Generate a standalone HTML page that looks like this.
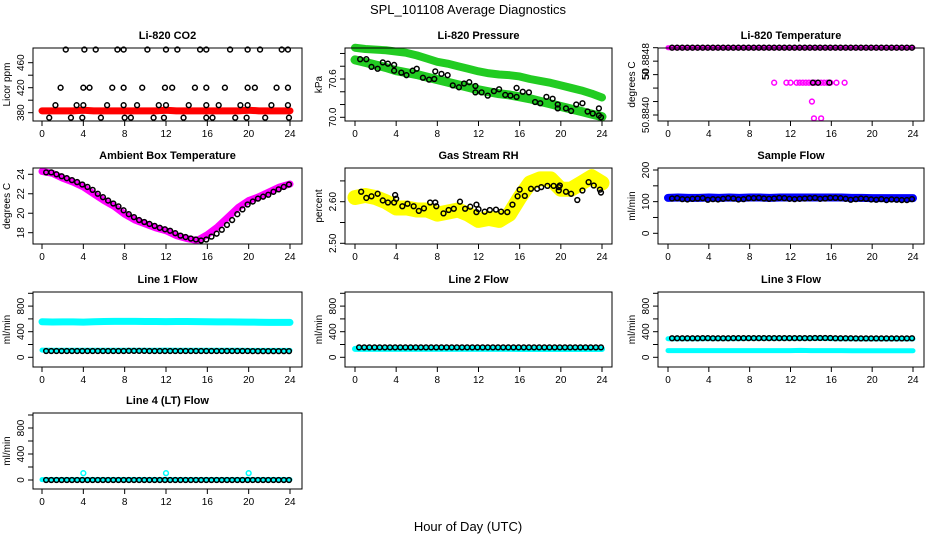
<!DOCTYPE html>
<html><head><meta charset="utf-8"><title>SPL_101108 Average Diagnostics</title>
<style>
html,body{margin:0;padding:0;background:#fff;}
svg{display:block;font-family:"Liberation Sans",sans-serif;}
</style></head>
<body>
<svg id="chart" width="936" height="540" viewBox="0 0 936 540">
<text x="468" y="14" text-anchor="middle" font-size="13">SPL_101108  Average Diagnostics</text>
<text x="468" y="531" text-anchor="middle" font-size="13">Hour of Day (UTC)</text>
</svg>
<script>
// ---------- data ----------
const hourly = [0,1,2,3,4,5,6,7,8,9,10,11,12,13,14,15,16,17,18,19,20,21,22,23,24];
const halfHours = [0.4,0.9,1.4,1.9,2.4,2.9,3.4,3.9,4.4,4.9,5.4,5.9,6.4,6.9,7.4,7.9,8.4,8.9,9.4,9.9,10.4,10.9,11.4,11.9,12.4,12.9,13.4,13.9,14.4,14.9,15.4,15.9,16.4,16.9,17.4,17.9,18.4,18.9,19.4,19.9,20.4,20.9,21.4,21.9,22.4,22.9,23.4,23.9];
const xTicks = [0,4,8,12,16,20,24];

// CO2
const co2Red = [383,383,383,383,384,383,383,383,383,383,383,383,384,383,383,383,383,383,383,383,384,383,383,383,383];
const co2HoursA = [2.3,4.1,5.2,7.3,7.9,10.2,12.0,13.1,15.3,15.9,18.2,19.9,21.1,23.2,23.8];
const co2HoursB = [1.8,4.0,4.6,6.8,7.9,9.7,11.9,12.6,14.8,15.9,17.7,19.9,20.6,22.7,23.8];
const co2HoursC = [1.3,3.35,4.0,6.3,7.9,9.2,11.3,12.0,14.2,15.9,17.1,19.2,19.9,22.2,23.8];
const co2HoursD = [0.7,2.8,3.9,5.7,8.0,8.6,10.8,11.8,13.7,15.9,16.5,18.7,19.8,21.6,23.9];
const co2Levels = [481,420,392,372];

// Pressure
const presUpper = [71.09,71.07,71.06,71.05,71.03,71.01,70.97,70.92,70.87,70.84,70.80,70.76,70.72,70.69,70.67,70.66,70.64,70.60,70.57,70.54,70.50,70.46,70.42,70.37,70.31];
const presLower = [70.90,70.86,70.82,70.78,70.73,70.70,70.67,70.63,70.59,70.55,70.51,70.47,70.43,70.40,70.37,70.35,70.32,70.29,70.25,70.21,70.17,70.13,70.09,70.05,70.01];
const presBlackHours = [0.5,1.1,1.6,2.2,2.7,3.2,3.8,3.8,4.5,5.0,5.6,6.0,6.6,7.2,7.7,7.8,8.4,9.0,9.5,10.1,10.6,11.1,11.7,11.7,12.3,12.9,13.5,14.0,14.6,15.1,15.7,15.7,16.3,16.9,17.5,18.0,18.6,19.2,19.7,19.7,20.5,21.0,21.5,22.1,22.6,23.1,23.7,23.7,23.9];
const presBlack = [70.91,70.91,70.79,70.76,70.86,70.84,70.82,70.73,70.70,70.66,70.73,70.76,70.62,70.59,70.60,70.72,70.68,70.66,70.50,70.47,70.53,70.55,70.49,70.39,70.39,70.34,70.41,70.44,70.35,70.34,70.46,70.32,70.40,70.39,70.24,70.22,70.32,70.29,70.20,70.14,70.14,70.10,70.20,70.22,70.09,70.06,70.03,70.14,70.00];

// Li-820 temperature
const tempTop = [50.8850,50.8850,50.8850,50.8850,50.8850,50.8850,50.8850,50.8850,50.8850,50.8850,50.8850,50.8850,50.8850,50.8850,50.8850,50.8850,50.8850,50.8850,50.8850,50.8850,50.8850,50.8850,50.8850,50.8850,50.8850];
const tempBlackTop = [50.8850,50.8850,50.8850,50.8850,50.8850,50.8850,50.8850,50.8850,50.8850,50.8850,50.8850,50.8850,50.8850,50.8850,50.8850,50.8850,50.8850,50.8850,50.8850,50.8850,50.8850,50.8850,50.8850,50.8850,50.8850,50.8850,50.8850,50.8850,50.8850,50.8850,50.8850,50.8850,50.8850,50.8850,50.8850,50.8850,50.8850,50.8850,50.8850,50.8850,50.8850,50.8850,50.8850,50.8850,50.8850,50.8850,50.8850,50.8850];
const tempMidHours = [10.4,11.6,12.0,12.6,12.9,13.2,13.5,13.8,14.1,14.4,14.7,15.0,15.3,15.6,15.9,16.5,17.3,14.1,14.3,15.0];
const tempMid = [50.88448,50.88448,50.88448,50.88448,50.88448,50.88448,50.88448,50.88448,50.88448,50.88448,50.88448,50.88448,50.88448,50.88448,50.88448,50.88448,50.88448,50.8842,50.88395,50.88395];
const tempBlackMidHours = [14.2,14.7,15.8];
const tempBlackMid = [50.88448,50.88448,50.88448];

// Ambient box temperature
const ambMagenta = [24.3,24.1,23.6,23.2,22.7,22.0,21.3,20.7,19.9,19.3,18.9,18.5,18.2,17.7,17.4,17.2,17.8,18.6,19.6,20.6,21.3,21.7,22.2,22.7,23.0];
const ambBlack = [24.2,24.2,24.0,23.8,23.6,23.4,23.2,22.95,22.7,22.4,22.0,21.65,21.3,21.0,20.7,20.3,19.9,19.6,19.3,19.1,18.9,18.7,18.5,18.35,18.2,17.95,17.7,17.55,17.4,17.3,17.2,17.3,17.6,17.9,18.3,18.8,19.3,19.9,20.4,20.9,21.2,21.5,21.7,21.9,22.2,22.45,22.7,22.95];

// Gas stream RH
const rhYellow = [2.61,2.615,2.61,2.60,2.585,2.585,2.58,2.58,2.57,2.575,2.58,2.57,2.555,2.56,2.555,2.57,2.61,2.645,2.655,2.655,2.63,2.63,2.645,2.66,2.645];
const rhBlackHours = [0.6,1.1,1.6,2.2,2.7,3.2,3.8,3.9,4.0,4.6,5.1,5.7,6.2,6.7,7.3,7.8,7.9,8.6,9.1,9.6,10.2,10.7,11.2,11.8,11.8,12.0,12.6,13.1,13.7,14.2,14.8,15.3,15.8,16.0,16.5,17.1,17.7,18.1,18.7,19.3,19.8,19.9,19.8,20.5,21.0,21.6,22.1,22.7,23.2,23.8,23.9];
const rhBlack = [2.624,2.609,2.613,2.619,2.603,2.598,2.598,2.616,2.607,2.589,2.595,2.589,2.578,2.584,2.598,2.598,2.589,2.572,2.580,2.583,2.600,2.583,2.588,2.593,2.575,2.582,2.576,2.580,2.581,2.576,2.575,2.593,2.613,2.629,2.614,2.631,2.631,2.635,2.638,2.638,2.635,2.639,2.627,2.624,2.619,2.604,2.627,2.647,2.639,2.629,2.622];

// Sample flow
const sampleBlue = [112,113,112,112,113,112,113,112,113,113,112,113,113,113,113,113,113,113,112,112,111,111,111,111,111];
const sampleBlack = [110,111,108,107,109,110,111,106,108,107,109,111,110,107,108,111,111,112,110,109,110,112,111,109,108,109,110,111,112,109,110,112,112,111,109,106,108,110,109,107,106,108,105,107,106,105,105,108];

// Line flows
const line1Upper = [555,552,553,553,550,556,560,562,562,562,560,560,558,560,560,558,555,553,553,552,550,548,546,545,545];
const line1Lower = [112,110,110,110,110,110,110,110,110,110,110,110,112,110,110,110,110,110,110,110,108,108,108,108,108];
const line1Black = [98,98,98,98,98,98,98,98,98,98,98,98,98,98,98,98,100,100,100,100,98,98,98,98,98,98,98,98,98,98,98,98,98,98,98,98,98,98,98,98,96,96,96,96,96,96,96,96];
const line2Cyan = [132,132,132,132,132,132,132,132,132,132,132,132,132,132,132,132,130,130,130,130,130,130,130,130,130];
const line2Black = [155,155,155,155,155,155,155,155,155,155,155,155,155,155,155,155,155,155,155,155,155,155,155,155,155,155,155,155,155,155,155,155,155,155,155,155,155,155,155,155,155,155,155,155,155,155,155,155];
const line3Upper = [290,290,290,290,292,292,292,292,295,295,295,295,295,295,295,295,292,290,290,288,288,288,288,288,288];
const line3Lower = [105,105,105,105,105,105,105,105,105,105,105,105,105,108,105,105,105,105,103,103,103,103,103,103,103];
const line3Black = [298,298,298,298,298,298,300,300,298,298,298,298,300,300,300,300,300,300,300,300,300,300,300,300,300,300,300,300,302,302,302,302,298,298,298,298,296,296,296,296,296,296,296,296,296,296,296,298];
const line4Cyan = [5,5,5,5,5,5,5,5,5,5,5,5,5,5,5,5,5,5,5,5,5,5,5,5,5];
const line4OutHours = [4,12,20];
const line4Out = [105,105,105];
const line4Black = [0,0,0,0,0,0,0,0,0,0,0,0,0,0,0,0,0,0,0,0,0,0,0,0,0,0,0,0,0,0,0,0,0,0,0,0,0,0,0,0,0,0,0,0,0,0,0,0];

// ---------- layout ----------
const NS = 'http://www.w3.org/2000/svg';
const svg = document.getElementById('chart');
const cols = [{l:33,r:302,x0:42,x24:290},{l:345,r:612,x0:355,x24:602},{l:658,r:924,x0:668,x24:913}];
const rows = [{t:48,b:121},{t:168,b:244},{t:292,b:367},{t:413,b:489}];

function mk(tag, parent){ const e=document.createElementNS(NS,tag); parent.appendChild(e); return e; }

function makePanel(ci, ri, title, ylab, v0, p0, v1, p1, ticks, labels, name, clip){
  const c=cols[ci], r=rows[ri];
  const g=mk('g',svg);
  
  
  const xs = h => c.x0 + (c.x24-c.x0)*h/24;
  const ys = v => p0 + (p1-p0)*(v-v0)/(v1-v0);
  const plot = mk('g', g);
  
  
  if(clip){
    const clipId = 'clip-'+name;
    const cp = mk('clipPath', g); cp.setAttribute('id', clipId);
    const cr = mk('rect', cp); cr.setAttribute('x',c.l); cr.setAttribute('y',r.t); cr.setAttribute('width',c.r-c.l); cr.setAttribute('height',r.b-r.t);
    plot.setAttribute('clip-path','url(#'+clipId+')');
  }
  const t=mk('text',g); t.textContent=title;
  t.setAttribute('x',(c.l+c.r)/2); t.setAttribute('y',r.t-9); t.setAttribute('text-anchor','middle');
  t.setAttribute('font-size','11'); t.setAttribute('font-weight','bold');
  
  
  const bx=mk('rect',g); bx.setAttribute('x',c.l); bx.setAttribute('y',r.t); bx.setAttribute('width',c.r-c.l); bx.setAttribute('height',r.b-r.t);
  bx.setAttribute('fill','none'); bx.setAttribute('stroke','#000'); bx.setAttribute('stroke-width','1');
  
  
  const xa=mk('g',g);
  
  
  const xl=mk('line',xa); xl.setAttribute('x1',xs(0)); xl.setAttribute('x2',xs(24)); xl.setAttribute('y1',r.b); xl.setAttribute('y2',r.b); xl.setAttribute('stroke','#000');
  xTicks.forEach(h=>{
    const tk=mk('line',xa); tk.setAttribute('x1',xs(h)); tk.setAttribute('x2',xs(h)); tk.setAttribute('y1',r.b); tk.setAttribute('y2',r.b+5); tk.setAttribute('stroke','#000');
    
    
    const tl=mk('text',xa); tl.textContent=h; tl.setAttribute('x',xs(h)); tl.setAttribute('y',r.b+16); tl.setAttribute('text-anchor','middle'); tl.setAttribute('font-size','10');
    
    
  });
  const ya=mk('g',g);
  
  
  const yl=mk('line',ya); yl.setAttribute('x1',c.l); yl.setAttribute('x2',c.l); yl.setAttribute('y1',ys(ticks[0])); yl.setAttribute('y2',ys(ticks[ticks.length-1])); yl.setAttribute('stroke','#000');
  ticks.forEach((v,i)=>{
    const tk=mk('line',ya); tk.setAttribute('x1',c.l-5); tk.setAttribute('x2',c.l); tk.setAttribute('y1',ys(v)); tk.setAttribute('y2',ys(v)); tk.setAttribute('stroke','#000');
    
    
    if(labels[i]){
      const tl=mk('text',ya); tl.textContent=labels[i];
      tl.setAttribute('transform','translate('+(c.l-9)+','+ys(v)+') rotate(-90)');
      tl.setAttribute('text-anchor','middle'); tl.setAttribute('font-size','10');
      
      
    }
  });
  const yt=mk('text',g); yt.textContent=ylab;
  yt.setAttribute('transform','translate('+(c.l-23)+','+((r.t+r.b)/2)+') rotate(-90)');
  yt.setAttribute('text-anchor','middle'); yt.setAttribute('font-size','10');
  
  
  return {plot, xs, ys};
}

function band(p, hours, vals, color, width, name){
  const pl=mk('polyline',p.plot);
  pl.setAttribute('points', hours.map((h,i)=>p.xs(h)+','+p.ys(vals[i])).join(' '));
  pl.setAttribute('fill','none'); pl.setAttribute('stroke',color); pl.setAttribute('stroke-width',width);
  pl.setAttribute('stroke-linejoin','round'); pl.setAttribute('stroke-linecap','round');
  
  
}
function points(p, hours, vals, color, name){
  hours.forEach((h,i)=>{
    const ci=mk('circle',p.plot);
    ci.setAttribute('cx',p.xs(h)); ci.setAttribute('cy',p.ys(vals[i])); ci.setAttribute('r','2.4');
    ci.setAttribute('fill','none'); ci.setAttribute('stroke',color); ci.setAttribute('stroke-width','1.5');
    
    
  });
}

// CO2
let p = makePanel(0,0,'Li-820 CO2','Licor ppm',380,112.7,460,62.7,[380,400,420,440,460],['380','','420','','460'],'co2',false);
band(p, hourly, co2Red, '#ff0000', 7, 'co2-red-series');
points(p, co2HoursA, co2HoursA.map(()=>co2Levels[0]), '#000', 'co2-point');
points(p, co2HoursB, co2HoursB.map(()=>co2Levels[1]), '#000', 'co2-point');
points(p, co2HoursC, co2HoursC.map(()=>co2Levels[2]), '#000', 'co2-point');
points(p, co2HoursD, co2HoursD.map(()=>co2Levels[3]), '#000', 'co2-point');

// Pressure
p = makePanel(1,0,'Li-820 Pressure','kPa',70.0,117.3,70.6,79,[70.0,70.2,70.4,70.6,70.8,71.0],['70.0','','','70.6','',''],'pressure',false);
band(p, hourly, presUpper, '#22cc22', 8, 'pressure-upper-series');
band(p, hourly, presLower, '#22cc22', 9, 'pressure-lower-series');
points(p, presBlackHours, presBlack, '#000', 'pressure-point');

// Li-820 temperature
p = makePanel(2,0,'Li-820 Temperature','degrees C',50.8840,115,50.8850,47.7,[50.8840,50.8842,50.8844,50.8846,50.8848,50.8850],['50.8840','','','50','50.8848',''],'li820-temp',false);
band(p, hourly, tempTop, '#ff00ff', 5, 'li820-temp-magenta-series');
points(p, tempMidHours, tempMid, '#ff00ff', 'li820-temp-magenta-point');
points(p, halfHours, tempBlackTop, '#000', 'li820-temp-point');
points(p, tempBlackMidHours, tempBlackMid, '#000', 'li820-temp-point');

// Ambient
p = makePanel(0,1,'Ambient Box Temperature','degrees C',18,232.7,24,174.3,[18,20,22,24],['18','20','22','24'],'ambient',false);
band(p, hourly, ambMagenta, '#ff00ff', 7, 'ambient-magenta-series');
points(p, halfHours, ambBlack, '#000', 'ambient-point');

// RH
p = makePanel(1,1,'Gas Stream RH','percent',2.50,243.3,2.60,201.7,[2.50,2.55,2.60,2.65],['2.50','','2.60',''],'rh',true);
band(p, hourly, rhYellow, '#ffff00', 15, 'rh-yellow-series');
points(p, rhBlackHours, rhBlack, '#000', 'rh-point');

// Sample flow
p = makePanel(2,1,'Sample Flow','ml/min',0,233.3,200,170,[0,50,100,150,200],['0','','100','','200'],'sample-flow',false);
band(p, hourly, sampleBlue, '#0000ff', 8, 'sample-flow-blue-series');
points(p, halfHours, sampleBlack, '#000', 'sample-flow-point');

// Line 1
p = makePanel(0,2,'Line 1 Flow','ml/min',0,357.3,1000,293.3,[0,200,400,600,800,1000],['0','','400','','800',''],'line1',false);
band(p, hourly, line1Upper, '#00ffff', 7, 'line1-upper-series');
band(p, hourly, line1Lower, '#00ffff', 5, 'line1-lower-series');
points(p, halfHours, line1Black, '#000', 'line1-point');

// Line 2
p = makePanel(1,2,'Line 2 Flow','ml/min',0,357.3,1000,293.3,[0,200,400,600,800,1000],['0','','400','','800',''],'line2',false);
band(p, hourly, line2Cyan, '#00ffff', 6, 'line2-cyan-series');
points(p, halfHours, line2Black, '#000', 'line2-point');

// Line 3
p = makePanel(2,2,'Line 3 Flow','ml/min',0,357.3,1000,293.3,[0,200,400,600,800,1000],['0','','400','','800',''],'line3',false);
band(p, hourly, line3Upper, '#00ffff', 5, 'line3-upper-series');
band(p, hourly, line3Lower, '#00ffff', 5, 'line3-lower-series');
points(p, halfHours, line3Black, '#000', 'line3-point');

// Line 4
p = makePanel(0,3,'Line 4 (LT) Flow','ml/min',0,480,1000,415,[0,200,400,600,800,1000],['0','','400','','800',''],'line4',false);
band(p, hourly, line4Cyan, '#00ffff', 5, 'line4-cyan-series');
points(p, line4OutHours, line4Out, '#00ffff', 'line4-cyan-point');
points(p, halfHours, line4Black, '#000', 'line4-point');
</script>
</body></html>
